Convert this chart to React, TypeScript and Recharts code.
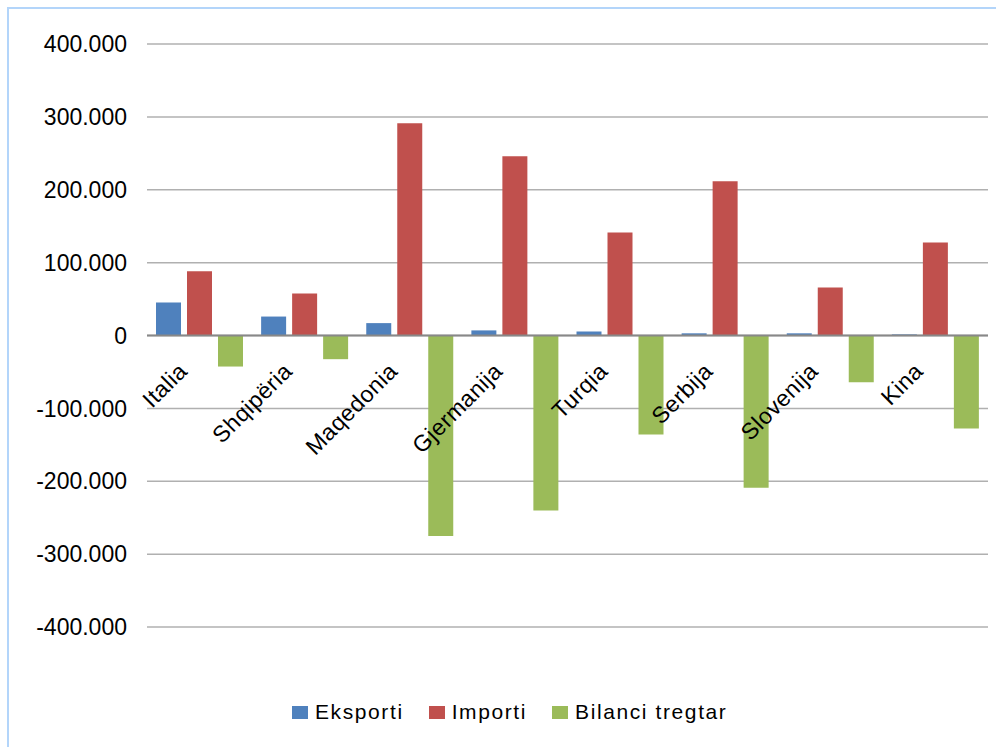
import { BarChart, Bar, XAxis, YAxis, CartesianGrid, Legend, ReferenceLine } from 'recharts'

const countries = ['Italia', 'Shqipëria', 'Maqedonia', 'Gjermanija', 'Turqia', 'Serbija', 'Slovenija', 'Kina']
const eksporti = [45300, 26000, 17000, 7000, 5500, 3000, 3000, 1500]
const importi = [88000, 57700, 291200, 246000, 141500, 211500, 66000, 127700]
const bilanci = [-42600, -32500, -275000, -240000, -136000, -208800, -64000, -127700]
const yTicks = [-400000, -300000, -200000, -100000, 0, 100000, 200000, 300000, 400000]

const W = 996
const H = 747
const TOP = 44
const BOTTOM = 120
const X_AXIS_H = 30
const Y_MIN = -400000
const Y_MAX = 400000
const PLOT_H = H - TOP - BOTTOM
const ZERO_Y = TOP + (PLOT_H * Y_MAX) / (Y_MAX - Y_MIN)

const series = [
  { key: 'Eksporti', color: '#4f81bd' },
  { key: 'Importi', color: '#c0504d' },
  { key: 'Bilanci tregtar', color: '#9bbb59' },
]

const data = countries.map((name, i) => ({
  name,
  Eksporti: eksporti[i],
  Importi: importi[i],
  'Bilanci tregtar': bilanci[i],
}))

const FONT = '"Liberation Sans", Arial, sans-serif'

const fmt = (v: number) => {
  const s = Math.abs(v).toString().replace(/\B(?=(\d{3})+(?!\d))/g, '.')
  return (v < 0 ? '-' : '') + s
}

function CountryTick({ x, payload }: any) {
  return (
    <g transform={`translate(${x - 11},${ZERO_Y + 37})`}>
      <text textAnchor="end" transform="rotate(-45)" fontSize={23} letterSpacing={0.5} fontFamily={FONT} fill="#000">
        {payload.value}
      </text>
    </g>
  )
}

function LegendBox() {
  return (
    <div style={{ display: 'flex', alignItems: 'center', paddingLeft: 292, fontFamily: FONT, fontSize: 21, letterSpacing: 1.6, color: '#000' }}>
      {series.map((s) => (
        <div key={s.key} style={{ display: 'flex', alignItems: 'center', marginRight: 25 }}>
          <span style={{ width: 16, height: 13, background: s.color, marginRight: 7, display: 'inline-block' }} />
          <span>{s.key}</span>
        </div>
      ))}
    </div>
  )
}

export default function App() {
  return (
    <div style={{ position: 'relative', width: W, height: H, background: '#fff' }}>
      <style>{`html,body{margin:0;overflow:hidden;background:#fff}`}</style>
      <div style={{ position: 'absolute', left: 7, top: 7, width: W, height: H, borderLeft: '2px solid #b3d5fa', borderTop: '2px solid #b3d5fa' }} />
      <BarChart
        width={W}
        height={H}
        data={data}
        margin={{ top: TOP, right: 8, bottom: BOTTOM - X_AXIS_H, left: 0 }}
        barSize={25}
        barGap={6}
      >
        <CartesianGrid vertical={false} stroke="#b0b0b0" strokeWidth={1.5} />
        <XAxis dataKey="name" height={X_AXIS_H} axisLine={false} tickLine={false} tick={<CountryTick />} interval={0} />
        <YAxis
          width={147}
          domain={[Y_MIN, Y_MAX]}
          ticks={yTicks}
          tickFormatter={fmt}
          axisLine={false}
          tickLine={false}
          tickSize={0}
          tickMargin={20}
          tick={{ fontSize: 23, fill: '#000', fontFamily: FONT }}
        />
        <ReferenceLine y={0} stroke="#888" strokeWidth={2} />
        {series.map((s) => (
          <Bar key={s.key} dataKey={s.key} fill={s.color} isAnimationActive={false} />
        ))}
        <Legend
          layout="horizontal"
          verticalAlign="middle"
          align="center"
          wrapperStyle={{ top: 700, left: 0, width: W }}
          content={<LegendBox />}
        />
      </BarChart>
    </div>
  )
}
